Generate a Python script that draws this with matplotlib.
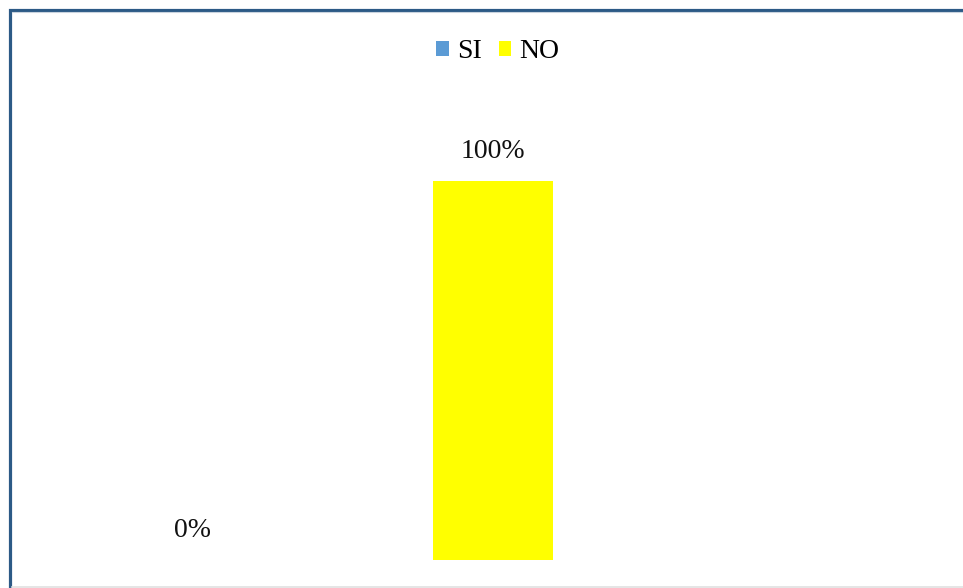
import matplotlib.pyplot as plt
from matplotlib.patches import Patch, Rectangle
from matplotlib.lines import Line2D

# === Data ===
categories = ["SI", "NO"]
values = [0, 100]
labels = ["0%", "100%"]
colors = ["#5B9BD5", "#FFFF00"]

plt.rcParams["font.family"] = ["Liberation Serif", "DejaVu Serif"]

fig = plt.figure(figsize=(9.63, 5.88), dpi=100)
ax = fig.add_axes([0, 0, 1, 1])

x = list(range(len(categories)))
ax.bar(x, values, width=0.4, color=colors)

for xi, v, lab in zip(x, values, labels):
    ax.annotate(lab, (xi, v), xytext=(0, 21.5), textcoords="offset points",
                ha="center", va="center", fontsize=20, color="#111111")

# axis limits so the bars land where they sit in the reference
ax.set_xlim(-0.638, 2.561)
ax.set_ylim(-7.39, 147.76)
ax.axis("off")

# legend
handles = [Patch(facecolor=c, edgecolor="none") for c in colors]
fig.legend(handles, categories, loc="center", bbox_to_anchor=(0.517, 0.912),
           ncol=2, frameon=False, fontsize=20, handlelength=0.45,
           handleheight=0.45, handletextpad=0.3, columnspacing=0.6)

# frame around the chart (right/bottom cut off)
W, H = 963, 588
fig.add_artist(Rectangle((9.5 / W, -0.1), 1.2, (H - 9.5) / H + 0.1,
                         transform=fig.transFigure, fill=False,
                         edgecolor="#2C5A86", linewidth=2.3))
fig.add_artist(Line2D([11.5 / W, 1], [1 - 12 / H, 1 - 12 / H],
                      transform=fig.transFigure, color="#C9D3DE", linewidth=0.8))
fig.add_artist(Line2D([11.5 / W, 1], [1.3 / H, 1.3 / H],
                      transform=fig.transFigure, color="#E0E0E0", linewidth=1.2))

fig.savefig("out.png", dpi=100)
